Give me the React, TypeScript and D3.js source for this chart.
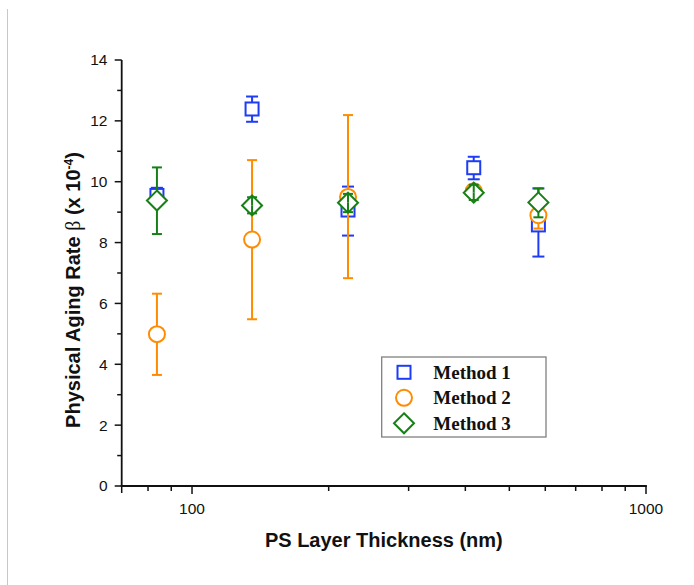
import React from "react";
import * as d3 from "d3";

const thickness = [83.7, 135.6, 220.6, 417.4, 579.4];
const method1 = [9.55, 12.39, 9.07, 10.46, 8.58];
const method1Lo = [9.3, 11.97, 8.23, 10.08, 7.54];
const method1Hi = [9.8, 12.8, 9.84, 10.82, 9.78];
const method2 = [4.99, 8.1, 9.5, 9.69, 8.9];
const method2Lo = [3.65, 5.48, 6.83, 9.5, 8.46];
const method2Hi = [6.32, 10.71, 12.19, 9.88, 9.36];
const method3 = [9.38, 9.22, 9.31, 9.64, 9.32];
const method3Lo = [8.28, 8.96, 9.0, 9.4, 8.83];
const method3Hi = [10.47, 9.49, 9.6, 9.9, 9.78];
const seriesNames = ["Method 1", "Method 2", "Method 3"];
const yTicks = [0, 2, 4, 6, 8, 10, 12, 14];
const yMinor = [1, 3, 5, 7, 9, 11, 13];
const xMajor = [100, 1000];
const xMinor = [80, 90, 200, 300, 400, 500, 600, 700, 800, 900];

const W = 694;
const H = 585;
const COLORS = ["#1e3cf5", "#ff8c00", "#168016"];
const SHAPES = ["square", "circle", "diamond"];
const HALF = [6.5, 8, 10];
const CAP = [6, 5, 5];

const x = d3.scaleLog().domain([70, 1000]).range([121.7, 646]);
const y = d3.scaleLinear().domain([0, 14]).range([486, 60]);

function Marker({ shape, cx, cy, color }: { shape: string; cx: number; cy: number; color: string }) {
  const common = { fill: "white", stroke: color, strokeWidth: 2 };
  if (shape === "square") {
    return <rect x={cx - 6.5} y={cy - 6.5} width={13} height={13} {...common} />;
  }
  if (shape === "circle") {
    return <circle cx={cx} cy={cy} r={8} {...common} />;
  }
  const r = 10;
  return <path d={`M${cx},${cy - r}L${cx + r},${cy}L${cx},${cy + r}L${cx - r},${cy}Z`} {...common} />;
}

export default function App() {
  const series = [
    { v: method1, lo: method1Lo, hi: method1Hi },
    { v: method2, lo: method2Lo, hi: method2Hi },
    { v: method3, lo: method3Lo, hi: method3Hi },
  ];
  const axisColor = "#111";
  const tickFont = "Arial, 'Liberation Sans', sans-serif";

  return (
    <svg width={W} height={H} style={{ position: "absolute", left: 0, top: 0, background: "white" }}>
      <line x1={7.5} x2={7.5} y1={9} y2={H} stroke="#c8c8c8" strokeWidth={1} />

      {/* Axes */}
      <line x1={x(70)} x2={x(70)} y1={y(0)} y2={y(14)} stroke={axisColor} strokeWidth={1.8} />
      <line x1={x(70) - 1} x2={x(1000) + 0.9} y1={y(0)} y2={y(0)} stroke={axisColor} strokeWidth={1.8} />

      {yTicks.map((t) => (
        <g key={"yt" + t}>
          <line x1={x(70) - 7} x2={x(70)} y1={y(t)} y2={y(t)} stroke={axisColor} strokeWidth={1.5} />
          <text x={107.5} y={y(t)} dy="0.35em" textAnchor="end" fontFamily={tickFont} fontSize={15.5} fill="#111">
            {t}
          </text>
        </g>
      ))}
      {yMinor.map((t) => (
        <line key={"ym" + t} x1={x(70) - 4.5} x2={x(70)} y1={y(t)} y2={y(t)} stroke={axisColor} strokeWidth={1.5} />
      ))}
      <line x1={x(70)} x2={x(70)} y1={y(0)} y2={y(0) + 7} stroke={axisColor} strokeWidth={1.5} />
      {xMajor.map((t) => (
        <g key={"xt" + t}>
          <line x1={x(t)} x2={x(t)} y1={y(0)} y2={y(0) + 8} stroke={axisColor} strokeWidth={1.5} />
          <text x={x(t)} y={514} textAnchor="middle" fontFamily={tickFont} fontSize={15.5} fill="#111">
            {t}
          </text>
        </g>
      ))}
      {xMinor.map((t) => (
        <line key={"xm" + t} x1={x(t)} x2={x(t)} y1={y(0)} y2={y(0) + 5} stroke={axisColor} strokeWidth={1.5} />
      ))}

      {/* Axis titles */}
      <text
        x={(x(70) + x(1000)) / 2}
        y={546.5}
        textAnchor="middle"
        fontFamily={tickFont}
        fontWeight="bold"
        fontSize={20}
        fill="#111"
      >
        PS Layer Thickness (nm)
      </text>
      <text
        transform="translate(79.5,290) rotate(-90)"
        textAnchor="middle"
        fontFamily={tickFont}
        fontWeight="bold"
        fontSize={20}
        fill="#111"
      >
        <tspan>Physical Aging Rate </tspan>
        <tspan fontFamily="'Liberation Serif', serif" fontWeight="normal">β</tspan>
        <tspan> (x 10</tspan>
        <tspan fontSize={12} baselineShift="super">-4</tspan>
        <tspan>)</tspan>
      </text>

      {/* Data */}
      {series.map((s, si) => (
        <g key={"s" + si}>
          {thickness.map((t, i) => {
            const cx = x(t);
            const cy = y(s.v[i]);
            const yHi = y(s.hi[i]);
            const yLo = y(s.lo[i]);
            const h = HALF[si];
            const topEnd = yHi < cy - h ? cy - h : cy;
            const botEnd = yLo > cy + h ? cy + h : cy;
            const c = COLORS[si];
            const cw = CAP[si];
            return (
              <g key={"p" + i}>
                <Marker shape={SHAPES[si]} cx={cx} cy={cy} color={c} />
                <line x1={cx} x2={cx} y1={yHi} y2={topEnd} stroke={c} strokeWidth={2} />
                <line x1={cx} x2={cx} y1={yLo} y2={botEnd} stroke={c} strokeWidth={2} />
                <line x1={cx - cw} x2={cx + cw} y1={yHi} y2={yHi} stroke={c} strokeWidth={2} />
                <line x1={cx - cw} x2={cx + cw} y1={yLo} y2={yLo} stroke={c} strokeWidth={2} />
              </g>
            );
          })}
        </g>
      ))}

      {/* Legend */}
      <rect x={381.7} y={357} width={164.3} height={80} fill="white" stroke="#808080" strokeWidth={1.3} />
      {seriesNames.map((n, i) => {
        const ly = 372.3 + i * 25.5;
        return (
          <g key={"l" + i}>
            <Marker shape={SHAPES[i]} cx={404} cy={ly} color={COLORS[i]} />
            <text
              x={433.3}
              y={ly}
              dy="0.35em"
              fontFamily="'Liberation Serif', 'Times New Roman', serif"
              fontWeight="bold"
              fontSize={19}
              fill="#111"
            >
              {n}
            </text>
          </g>
        );
      })}
    </svg>
  );
}
